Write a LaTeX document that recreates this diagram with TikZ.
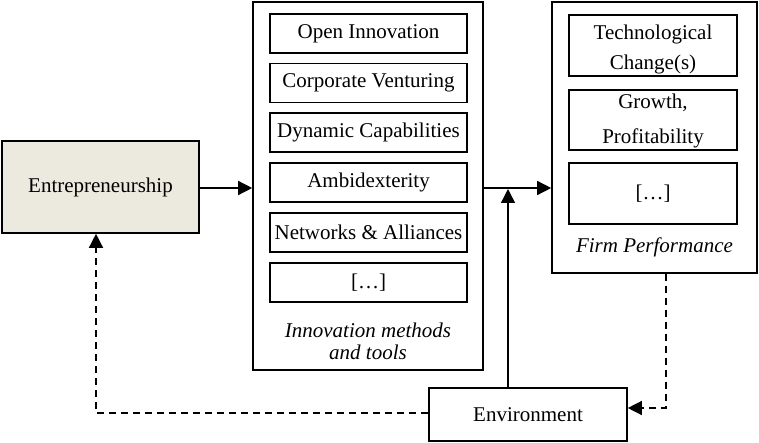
\documentclass[tikz,border=0pt]{standalone}
\usepackage{fontspec}
\setmainfont{Liberation Serif}
\usetikzlibrary{arrows.meta,calc}
\definecolor{beige}{HTML}{ECE9DF}
\begin{document}
\begin{tikzpicture}[x=1pt,y=-1pt,
  font=\fontsize{21}{24}\selectfont,
  box/.style={draw,line width=1.6pt,rectangle,inner sep=0pt,align=center},
  outer/.style={draw,line width=1.6pt,rectangle,inner sep=0pt},
  conn/.style={line width=1.4pt,-{Triangle[length=14pt,width=14pt]}},
  dconn/.style={conn,dash pattern=on 7pt off 5pt}]
\useasboundingbox (0,0) rectangle (759,443);
% Entrepreneurship
\node[box,fill=beige,minimum width=197pt,minimum height=92pt] (ent) at (100.5,187) {Entrepreneurship};
% middle block
\node[outer,minimum width=230pt,minimum height=368pt] (mid) at (368,186) {};
\node[box,minimum width=197pt,minimum height=39pt] (oi) at (368.5,33.5) {Open Innovation};
\node[box,minimum width=197pt,minimum height=39pt] (cv) at (368.5,83) {Corporate Venturing};
\node[box,minimum width=197pt,minimum height=39pt] (dc) at (368.5,132.5) {Dynamic Capabilities};
\node[box,minimum width=197pt,minimum height=39pt] (am) at (368.5,182.5) {Ambidexterity};
\node[box,minimum width=197pt,minimum height=39pt] (na) at (368.5,232.5) {Networks \& Alliances};
\node[box,minimum width=197pt,minimum height=39pt] (e1) at (368.5,282.5) {[…]};
\node[align=center,font=\fontsize{21}{22}\selectfont\itshape] (iml) at (368,341) {Innovation methods\\and tools};
% right block
\node[outer,minimum width=205pt,minimum height=271pt] (rt) at (654.5,137.5) {};
\node[box,minimum width=168pt,minimum height=61pt] (tc) at (653,45.5) {\raisebox{-24.5pt}[0pt][0pt]{\shortstack{Technological\\[8pt]Change(s)}}};
\node[box,minimum width=168pt,minimum height=60pt] (gp) at (653,120) {\raisebox{-24pt}[0pt][0pt]{\shortstack{Growth,\\[14pt]Profitability}}};
\node[box,minimum width=168pt,minimum height=61pt] (e2) at (653,193.5) {[…]};
\node[font=\fontsize{21}{24}\selectfont\itshape] (fp) at (654.5,247) {Firm Performance};
% Environment
\node[box,minimum width=198pt,minimum height=53pt] (env) at (528,414.5) {Environment};
% connectors
\draw[conn] (ent.east |- 0,188) -- (mid.west |- 0,188);
\coordinate (jn) at (508,188);
\draw[line width=1.4pt] (mid.east |- jn) -- (jn);
\draw[conn] (jn) -- (rt.west |- jn);
\draw[conn,shorten >=1pt] (env.north -| jn) -- (jn);
\draw[dconn] ([xshift=11.5pt]rt.south) |- ([yshift=6.5pt]env.east);
\draw[dconn] ([yshift=1.5pt]env.west) -| ([xshift=-4.5pt]ent.south);
\end{tikzpicture}
\end{document}
